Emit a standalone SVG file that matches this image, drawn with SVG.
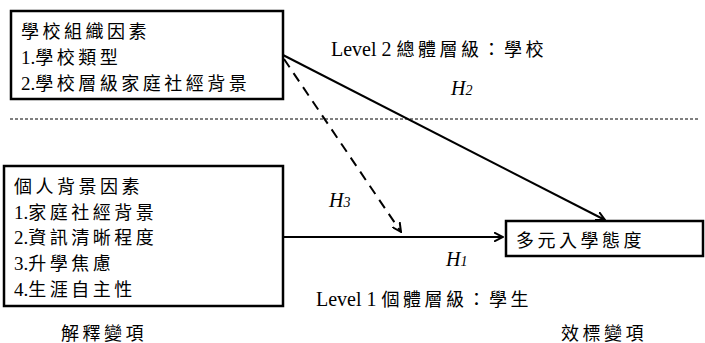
<svg xmlns="http://www.w3.org/2000/svg" width="705" height="343" viewBox="0 0 705 343">
<style>
.box{fill:#fff;stroke:#000;stroke-width:2.5}
.t{font-family:"Liberation Serif","Noto Sans CJK TC",serif;font-size:18px;letter-spacing:3.5px;fill:#000}
.l{font-family:"Liberation Serif",serif;font-size:20px;letter-spacing:0}
.n{font-family:"Liberation Serif",serif;font-size:19px;letter-spacing:0}
.h{font-family:"Liberation Serif",serif;font-size:20px;font-style:italic;fill:#000}
.hs{font-size:14px}
.ln{fill:none;stroke:#000;stroke-width:2}
</style>
<defs>
<marker id="arr" viewBox="0 0 10 10" refX="9" refY="5" markerWidth="10" markerHeight="10" markerUnits="userSpaceOnUse" orient="auto">
<path d="M0,0.5 L9,5 L0,9.5" fill="none" stroke="#000" stroke-width="2" stroke-dasharray="none"/>
</marker>
</defs>
<rect width="705" height="343" fill="#fff"/>
<line x1="10" y1="119" x2="700" y2="119" stroke="#000" stroke-width="1" stroke-dasharray="3,2"/>
<g id="connectors">
<line class="ln" x1="283" y1="55" x2="605" y2="220" marker-end="url(#arr)"/>
<line class="ln" x1="284" y1="59" x2="401" y2="232" stroke-width="2.5" stroke-dasharray="10,7" marker-end="url(#arr)"/>
<line class="ln" x1="283" y1="237" x2="503" y2="237" marker-end="url(#arr)"/>
</g>
<g id="school">
<rect class="box" x="11" y="11" width="272" height="88"/>
<text class="t" x="21" y="38">學校組織因素</text>
<text class="t" x="21" y="64"><tspan class="n">1.</tspan>學校類型</text>
<text class="t" x="21" y="90"><tspan class="n">2.</tspan>學校層級家庭社經背景</text>
</g>
<g id="individual">
<rect class="box" x="4" y="166" width="279" height="140"/>
<text class="t" x="14" y="193">個人背景因素</text>
<text class="t" x="14" y="219"><tspan class="n">1.</tspan>家庭社經背景</text>
<text class="t" x="14" y="244"><tspan class="n">2.</tspan>資訊清晰程度</text>
<text class="t" x="14" y="270"><tspan class="n">3.</tspan>升學焦慮</text>
<text class="t" x="14" y="296"><tspan class="n">4.</tspan>生涯自主性</text>
</g>
<g id="outcome">
<rect class="box" x="506" y="221" width="197" height="35"/>
<text class="t" x="516" y="247">多元入學態度</text>
</g>
<g id="labels">
<text class="t" x="331" y="56"><tspan class="l">Level 2 </tspan>總體層級：學校</text>
<text class="t" x="316" y="306"><tspan class="l">Level 1 </tspan>個體層級：學生</text>
<text class="h" x="451" y="95">H<tspan class="hs">2</tspan></text>
<text class="h" x="329" y="207">H<tspan class="hs">3</tspan></text>
<text class="h" x="446" y="266">H<tspan class="hs">1</tspan></text>
<text class="t" x="61" y="340">解釋變項</text>
<text class="t" x="561" y="340">效標變項</text>
</g>
</svg>
